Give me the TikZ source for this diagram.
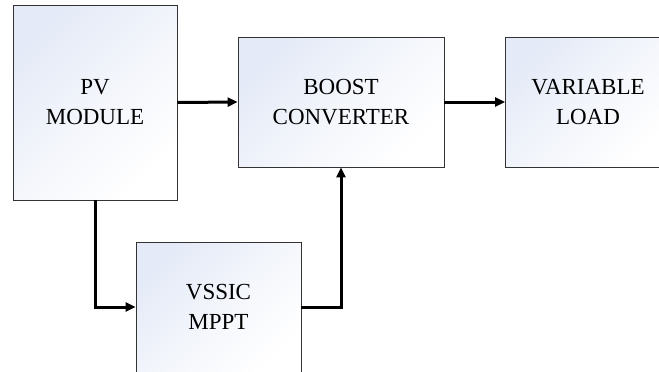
\documentclass[tikz,border=0pt]{standalone}
\usepackage{fontspec}
\setmainfont{Liberation Serif}
\usetikzlibrary{arrows.meta}

\definecolor{boxtint}{RGB}{228,234,247}

\tikzset{
    block/.style={draw=black!80, line width=0.8bp, top color=boxtint, bottom color=white,
        middle color=boxtint!45, shading angle=45, align=center, inner sep=0pt,
        font=\fontsize{23bp}{30bp}\selectfont},
    link/.style={line width=3bp, -{Triangle[length=10bp,width=9bp]}}
}

\begin{document}
\begin{tikzpicture}[x=1bp, y=-1bp]

    \useasboundingbox (0,0) rectangle (659,371);
    \clip (0,0) rectangle (659,371);

    % Blocks
    \node[block, minimum width=164bp, minimum height=195bp] (pv) at (95,102.5) {PV\\MODULE};
    \node[block, minimum width=206bp, minimum height=130bp] (boost) at (341,102) {BOOST\\CONVERTER};
    \node[block, minimum width=165bp, minimum height=130bp] (load) at (588,102) {VARIABLE\\LOAD};
    \node[block, minimum width=165bp, minimum height=130bp] (mppt) at (218.5,307) {VSSIC\\MPPT};

    % Power path
    \draw[link] (pv.east) -- (boost.west);
    \draw[link] (boost.east) -- (load.west);

    % Control path
    \draw[link] (pv.south) |- (mppt.west);
    \draw[link] (mppt.east) -| (boost.south);

\end{tikzpicture}
\end{document}
